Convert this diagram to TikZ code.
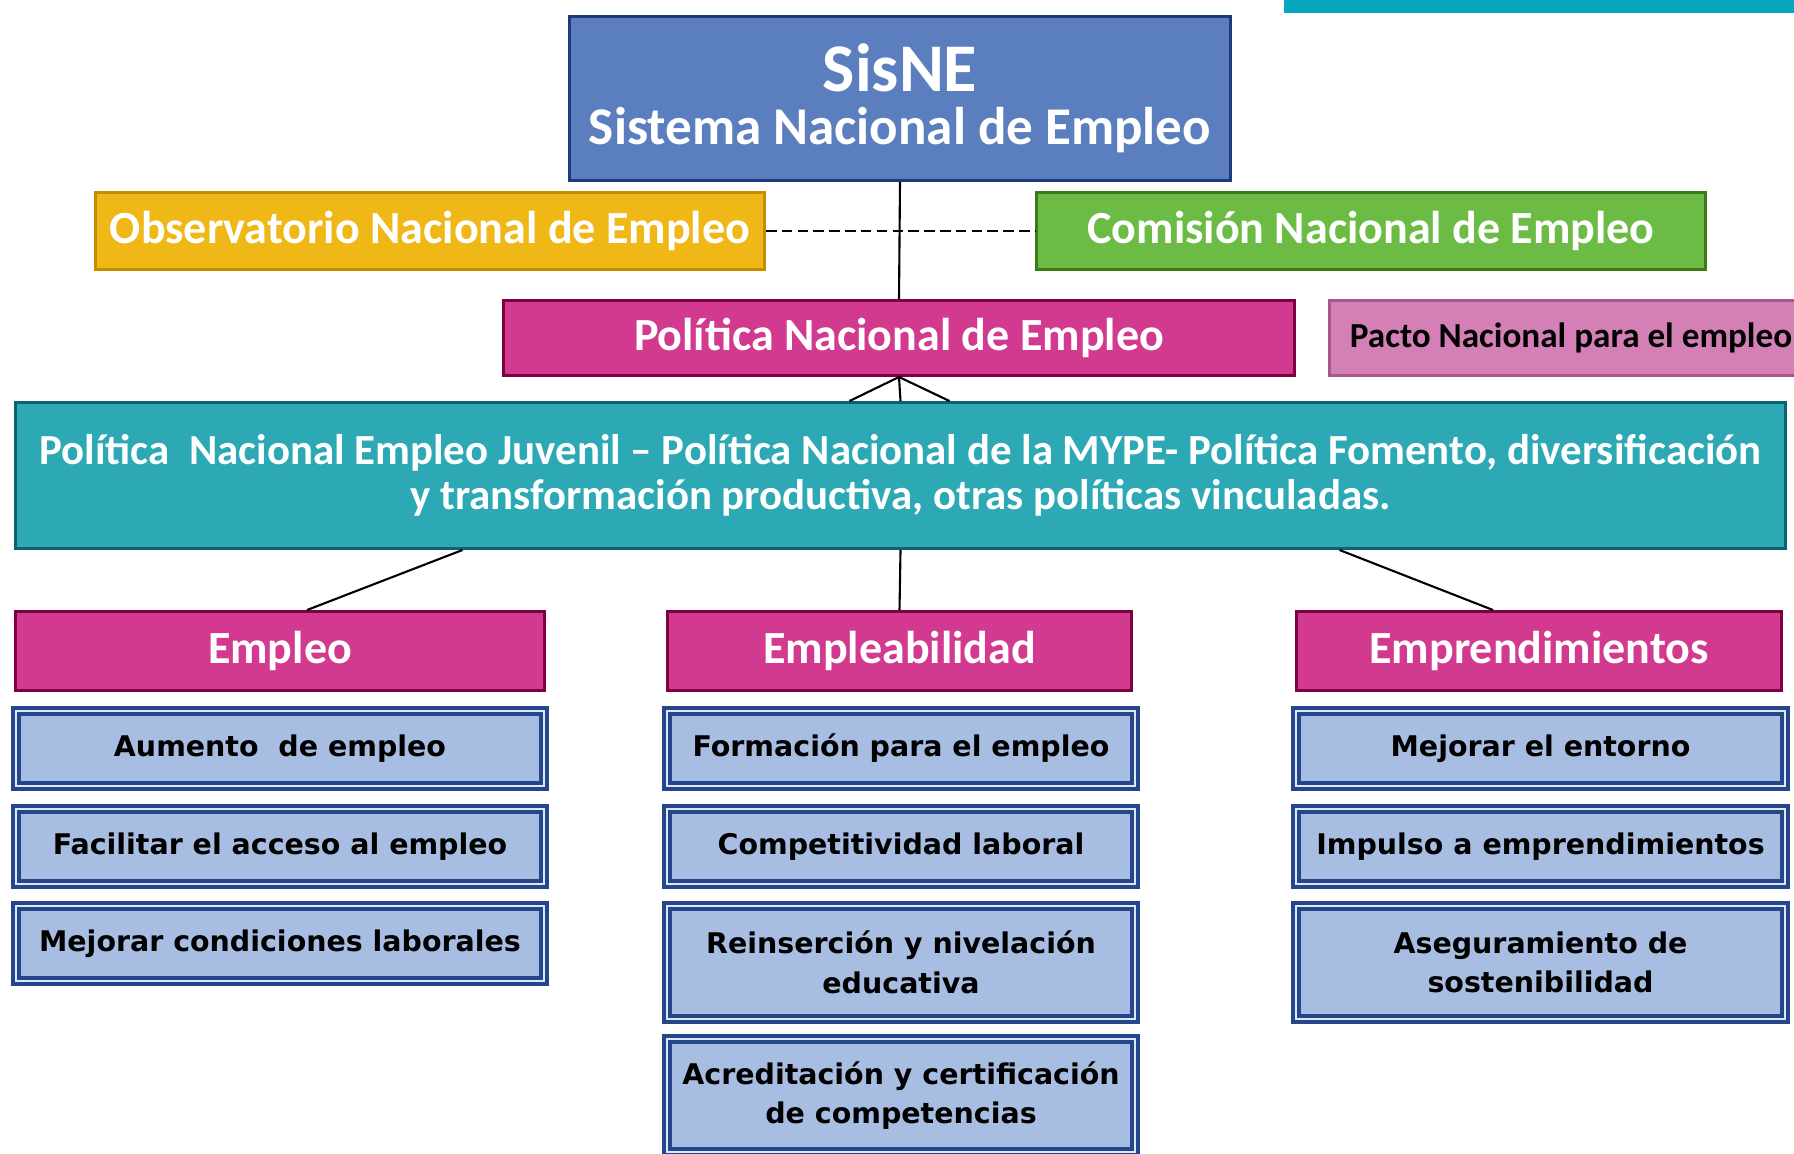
\documentclass[tikz,border=0pt]{standalone}
\usepackage{fontspec}
\setmainfont{Carlito}
\newfontfamily\boxfont{DejaVu Sans}
\usetikzlibrary{calc}
\definecolor{sisfill}{HTML}{5B7FBE}
\definecolor{sisline}{HTML}{1E3A78}
\definecolor{obsfill}{HTML}{EFB817}
\definecolor{obsline}{HTML}{C48D00}
\definecolor{comfill}{HTML}{6CBB44}
\definecolor{comline}{HTML}{3B7A18}
\definecolor{polfill}{HTML}{D23A8F}
\definecolor{polline}{HTML}{7E0040}
\definecolor{pacfill}{HTML}{D480B6}
\definecolor{pacline}{HTML}{A35A89}
\definecolor{juvfill}{HTML}{2CA9B5}
\definecolor{juvline}{HTML}{0C6270}
\definecolor{topbar}{HTML}{06A6BE}
\definecolor{subfill}{HTML}{A7BDE2}
\definecolor{subline}{HTML}{26468C}
\definecolor{subedge}{HTML}{DCE8FA}

\begin{document}
\begin{tikzpicture}[x=0.1mm,y=-0.1mm]
    \tikzstyle{every node}=[font=\bfseries, text=white, inner sep=0pt, align=center]
    \tikzstyle{head}=[draw, line width=0.85pt, font=\bfseries\fontsize{13.1}{15}\selectfont]
    \tikzstyle{sub}=[draw=subline, line width=1.1pt, double=subedge, double distance=0.45pt,
        fill=subfill, text=black, font=\boxfont\bfseries\fontsize{8.1}{11.3}\selectfont]
    \tikzstyle{link}=[line width=0.6pt, black]

    \useasboundingbox (0,0) rectangle (1794,1153);
    \clip (0,0) rectangle (1794,1153);
    \fill[topbar] (1284,0) rectangle (1794,13);

    % top level
    \node[head, fill=sisfill, draw=sisline, minimum width=66.1mm, minimum height=16.4mm] (sisne) at (900,98.5)
        {{\fontsize{19.4}{21}\selectfont SisNE}\\[0pt]{\fontsize{15.1}{17}\selectfont Sistema Nacional de Empleo}};
    \node[head, fill=obsfill, draw=obsline, minimum width=66.9mm, minimum height=7.7mm] (obs) at (430,231)
        {Observatorio Nacional de Empleo};
    \node[head, fill=comfill, draw=comline, minimum width=66.9mm, minimum height=7.7mm] (com) at (1371,231)
        {Comisión Nacional de Empleo};
    \node[head, fill=polfill, draw=polline, minimum width=79.1mm, minimum height=7.5mm] (pol) at (899,338)
        {Política Nacional de Empleo};
    \node[head, fill=pacfill, draw=pacline, minimum width=48.3mm, minimum height=7.5mm, text=black,
        font=\bfseries\fontsize{10}{12}\selectfont] (pacto) at (1571,338)
        {Pacto Nacional para el empleo};
    \node[head, fill=juvfill, draw=juvline, minimum width=177mm, minimum height=14.6mm,
        font=\bfseries\fontsize{12.2}{12.8}\selectfont] (juv) at (900.5,475.5)
        {Política~ Nacional Empleo Juvenil – Política Nacional de la MYPE- Política Fomento, diversificación\\
         y transformación productiva, otras políticas vinculadas.};

    % three axes
    \node[head, fill=polfill, draw=polline, minimum width=52.9mm, minimum height=7.9mm] (emp) at (280,651) {Empleo};
    \node[head, fill=polfill, draw=polline, minimum width=46.4mm, minimum height=7.9mm] (eab) at (899.5,651) {Empleabilidad};
    \node[head, fill=polfill, draw=polline, minimum width=48.5mm, minimum height=7.9mm] (epr) at (1539,651) {Emprendimientos};

    % connectors
    \draw[link] (sisne.south) -- (pol.north);
    \draw[link, dashed, dash pattern=on 3pt off 1.5pt] (obs.east) -- (com.west);
    \draw[link] (pol.south) -- (juv.north);
    \draw[link] (pol.south) -- ($(juv.north)+(-51,0)$);
    \draw[link] (pol.south) -- ($(juv.north)+(49,0)$);
    \draw[link] ($(juv.south)+(-438,0)$) -- ($(emp.north)+(27,0)$);
    \draw[link] (juv.south) -- (eab.north);
    \draw[link] ($(juv.south)+(439,0)$) -- ($(epr.north)+(-46,0)$);

    % lines of action
    \foreach \n/\y/\t in {1/748.5/{Aumento~ de empleo}, 2/846.5/{Facilitar el acceso al empleo},
        3/943.5/{Mejorar condiciones laborales}}
        \node[sub, minimum width=52.8mm, minimum height=7.5mm] (emp\n) at (280,\y) {\t};
    \foreach \n/\y/\h/\t in {1/748.5/7.5/{Formación para el empleo}, 2/846.5/7.5/{Competitividad laboral},
        3/962.5/11.3/{Reinserción y nivelación\\educativa}, 4/1095.5/11.3/{Acreditación y certificación\\de competencias}}
        \node[sub, minimum width=46.8mm, minimum height=\h mm] (eab\n) at (901,\y) {\t};
    \foreach \n/\y/\h/\t in {1/748.5/7.5/{Mejorar el entorno}, 2/846.5/7.5/{Impulso a emprendimientos},
        3/962.5/11.3/{Aseguramiento de\\sostenibilidad}}
        \node[sub, minimum width=48.9mm, minimum height=\h mm] (epr\n) at (1540.5,\y) {\t};
\end{tikzpicture}
\end{document}
